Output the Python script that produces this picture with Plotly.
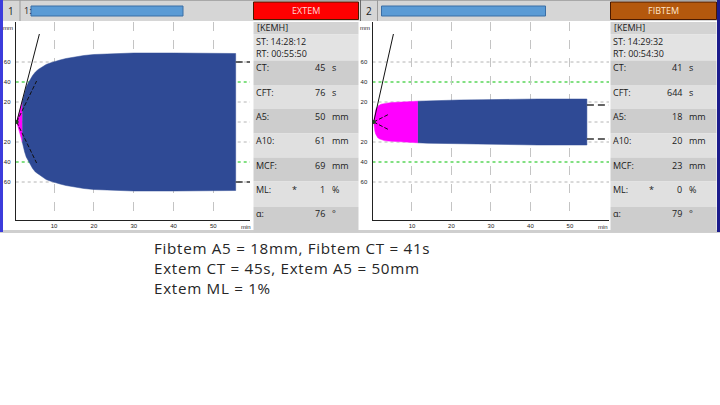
import plotly.graph_objects as go

W, H = 720, 405
def px(x): return x / W
def py(y): return 1 - y / H

# ---------------- data ----------------
# EXTEM trace: time (min) vs amplitude (mm)
ext_t = [0.6, 0.8, 1.0, 1.2, 1.4, 1.7, 2.0, 2.3, 2.6, 3.0, 3.5, 4.0, 4.6, 5.3, 6.0, 7.0,
         8.0, 9.0, 10.0, 11.5, 13.0, 15.0, 17.5, 20.0, 25.0, 30.0, 40.0, 50.0, 55.6]
ext_a = [0, 3, 6, 9, 12, 16, 20, 25.5, 30, 35, 39, 42.5, 46.5, 50, 52.5, 55,
         57.5, 59, 60.5, 62, 63.5, 65, 66.5, 67.5, 68.5, 69, 69, 68.8, 68.5]
ext_split = 2.0          # end of the magenta (clot formation) phase
ext_alpha_t = [0.6, 6.3]
ext_alpha_a = [0, 88]
ext_dash_t = [0.6, 5.6]
ext_dash_a = [0, 41]
ext_mark_t = [55.6, 59.2]
ext_mark_a = 60

# FIBTEM trace
fib_t = [0.3, 0.45, 0.6, 0.8, 1.0, 1.3, 1.7, 2.2, 3.0, 4.0, 5.0, 7.0, 9.0, 11.5,
         14.0, 18.0, 22.0, 28.0, 35.0, 42.0, 54.3]
fib_a = [0, 5, 9, 12, 14, 15.5, 16.8, 17.8, 18.6, 19.1, 19.5, 20, 20.4, 20.8,
         21.2, 21.7, 22, 22.3, 22.7, 23, 23]
fib_split = 11.5
fib_alpha_t = [0.3, 5.3]
fib_alpha_a = [0, 88]
fib_dash_t = [0.3, 4.0]
fib_dash_a = [0, 7.5]
fib_mark_t = [54.3, 60.0]
fib_mark_a = 17

grid_levels = [60, 20, 0, -20, -60]
green_levels = [40, -40]
y_tickvals = [60, 40, 20, -20, -40, -60]
y_ticktext = ["60", "40", "20", "20", "40", "60"]
x_tickvals = [10, 20, 30, 40, 50]

params = ["CT:", "CFT:", "A5:", "A10:", "MCF:", "ML:", "α:"]
units = ["s", "s", "mm", "mm", "mm", "%", "°"]
ext_vals = ["45", "76", "50", "61", "69", "1", "76"]
fib_vals = ["41", "644", "18", "20", "23", "0", "79"]
ext_info = ["[KEMH]", "ST: 14:28:12", "RT: 00:55:50"]
fib_info = ["[KEMH]", "ST: 14:29:32", "RT: 00:54:30"]

notes = ["Fibtem A5 = 18mm, Fibtem CT = 41s",
         "Extem CT = 45s, Extem A5 = 50mm",
         "Extem ML = 1%"]

BLUE = "#2f4a95"
MAG = "#ff00ff"

fig = go.Figure()

def add_trace(t, a, split, xa, ya):
    seg1 = [(ti, ai) for ti, ai in zip(t, a) if ti <= split]
    seg2 = [(ti, ai) for ti, ai in zip(t, a) if ti >= split]
    for seg, col in ((seg1, MAG), (seg2, BLUE)):
        ts = [s[0] for s in seg]
        as_ = [s[1] for s in seg]
        fig.add_trace(go.Scatter(
            x=ts + ts[::-1], y=as_ + [-v for v in as_[::-1]],
            fill="toself", fillcolor=col, mode="lines",
            line=dict(width=0.5, color=col), hoverinfo="skip",
            xaxis=xa, yaxis=ya, showlegend=False))

def add_lines(at, aa, dt, da, mt, ma, xa, ya):
    fig.add_trace(go.Scatter(x=at, y=aa, mode="lines", line=dict(color="#111", width=1),
                             xaxis=xa, yaxis=ya, showlegend=False, hoverinfo="skip"))
    for sgn in (1, -1):
        fig.add_trace(go.Scatter(x=dt, y=[sgn * v for v in da], mode="lines",
                                 line=dict(color="#111", width=1, dash="4px,2px"),
                                 xaxis=xa, yaxis=ya, showlegend=False, hoverinfo="skip"))
        fig.add_trace(go.Scatter(x=mt, y=[sgn * ma] * 2, mode="lines",
                                 line=dict(color="#333", width=1.3, dash="7px,4px"),
                                 xaxis=xa, yaxis=ya, showlegend=False, hoverinfo="skip"))
    fig.add_trace(go.Scatter(x=[at[0]], y=[0], mode="markers",
                             marker=dict(color="#1c4d1c", size=4),
                             xaxis=xa, yaxis=ya, showlegend=False, hoverinfo="skip"))

add_trace(ext_t, ext_a, ext_split, "x", "y")
add_lines(ext_alpha_t, ext_alpha_a, ext_dash_t, ext_dash_a, ext_mark_t, ext_mark_a, "x", "y")
add_trace(fib_t, fib_a, fib_split, "x2", "y2")
add_lines(fib_alpha_t, fib_alpha_a, fib_dash_t, fib_dash_a, fib_mark_t, fib_mark_a, "x2", "y2")

shapes = []
annos = []

def rect(x0, y0, x1, y1, fill, line=None, lw=0):
    shapes.append(dict(type="rect", xref="paper", yref="paper",
                       x0=px(x0), x1=px(x1), y0=py(y1), y1=py(y0),
                       fillcolor=fill, line=dict(width=lw, color=line or fill),
                       layer="below"))

def vline(x, y0, y1, color, w=1):
    shapes.append(dict(type="line", xref="paper", yref="paper",
                       x0=px(x), x1=px(x), y0=py(y0), y1=py(y1),
                       line=dict(color=color, width=w), layer="below"))

def text(x, y, s, size=9, color="#1a1a1a", anchor="left", family="Open Sans", yanchor="middle"):
    annos.append(dict(xref="paper", yref="paper", x=px(x), y=py(y), text=s,
                      showarrow=False, xanchor=anchor, yanchor=yanchor, align="left",
                      font=dict(size=size, color=color, family=family)))

# screenshot chrome
rect(0, 0, 720, 21, "#d6d6d6")
rect(0, 0, 720, 1, "#a8a8a8")
rect(0, 230, 720, 233, "#cfcfcf")
rect(0, 0, 3, 232, "#3c3cdc")
rect(717, 0, 720, 232, "#1c1c8c")
vline(20, 0, 21, "#9a9a9a")
vline(360.5, 0, 21, "#6a6a6a")
vline(377.5, 0, 21, "#9a9a9a")
rect(31, 6, 183, 16, "#5b9bd5", "#3a6ea5", 1)
rect(381.5, 6, 545.5, 16, "#5b9bd5", "#3a6ea5", 1)
text(11, 11, "1", size=10, anchor="center")
text(22, 11, "1:", size=9)
text(369, 11, "2", size=10, anchor="center")

# tables
row_bounds = [60.5, 85, 109, 133.5, 157.5, 181.5, 207, 232]
row_text_y = [68, 92.5, 117, 141, 165, 189.5, 213.5]
for x0, x1, title, tcol, tbox, vals, info in (
        (253.5, 358.5, "EXTEM", "#ffd6d6", "#ff0000", ext_vals, ext_info),
        (610.5, 716.5, "FIBTEM", "#ffe6cc", "#b4580d", fib_vals, fib_info)):
    rect(x0, 2, x1, 19.5, tbox, "#4a1a00", 1)
    text((x0 + x1) / 2, 11, title, size=9, color=tcol, anchor="center")
    rect(x0, 22, x1, 34.5, "#d3d3d3")
    rect(x0, 34.5, x1, 60.5, "#e3e3e3")
    for i in range(7):
        rect(x0, row_bounds[i], x1, row_bounds[i + 1], "#cdcdcd" if i % 2 == 0 else "#e0e0e0")
    text(x0 + 1, 28, info[0])
    text(x0 + 0.5, 41.5, info[1])
    text(x0 + 0.5, 53.5, info[2])
    for i, p in enumerate(params):
        text(x0 + 0.5, row_text_y[i], p)
        text(x0 + 73, row_text_y[i], vals[i], anchor="right")
        text(x0 + 76, row_text_y[i], units[i])
    text(x0 + 36, row_text_y[5], "*")

# small axis captions
for xm, xmin in ((7.5, 246), (365, 603)):
    text(xm, 28, "mm", size=6, anchor="center", family="Liberation Sans")
    text(xmin, 227, "min", size=6, anchor="center", family="Liberation Sans")

# horizontal reference lines inside plots
for xr, yr in (("x domain", "y"), ("x2 domain", "y2")):
    for lv in grid_levels:
        shapes.append(dict(type="line", xref=xr, yref=yr, x0=0, x1=1, y0=lv, y1=lv,
                           line=dict(color="#b4b4b4", width=1, dash="dot"), layer="below"))
    for lv in green_levels:
        shapes.append(dict(type="line", xref=xr, yref=yr, x0=0, x1=1, y0=lv, y1=lv,
                           line=dict(color="#5ad65a", width=1.5, dash="dot"), layer="below"))

# notes below (one block, plotly line spacing ~1.3em)
notes_html = "<br>".join("<span style='letter-spacing:0.7px'>%s</span>" % s for s in notes)
text(151.5, 236, notes_html, size=15.2, color="#262626", family="Open Sans", yanchor="top")

ydom = [py(220), py(22)]
axis_common = dict(showline=True, linecolor="#222", linewidth=1, zeroline=False,
                   ticks="", tickfont=dict(size=6, color="#222", family="Liberation Sans"))
fig.update_layout(
    width=W, height=H, margin=dict(l=0, r=0, t=0, b=0),
    paper_bgcolor="white", plot_bgcolor="white", showlegend=False,
    shapes=shapes, annotations=annos,
    xaxis=dict(domain=[px(15.7), px(250)], range=[0.35, 59.2], anchor="y",
               tickvals=x_tickvals, showgrid=True, gridcolor="#c4c4c4", griddash="dash",
               **axis_common),
    yaxis=dict(domain=ydom, range=[-98, 100], anchor="x", tickvals=y_tickvals,
               ticktext=y_ticktext, showgrid=False, ticklabelstandoff=3, **axis_common),
    xaxis2=dict(domain=[px(372.5), px(609)], range=[0.0, 59.9], anchor="y2",
                tickvals=x_tickvals, showgrid=True, gridcolor="#c4c4c4", griddash="dash",
                **axis_common),
    yaxis2=dict(domain=ydom, range=[-98, 100], anchor="x2", tickvals=y_tickvals,
                ticktext=y_ticktext, showgrid=False, ticklabelstandoff=3, **axis_common),
)

fig.write_html("out.html", config={"displayModeBar": False},
               post_script="document.body.style.margin='0';document.body.style.overflow='hidden';")
